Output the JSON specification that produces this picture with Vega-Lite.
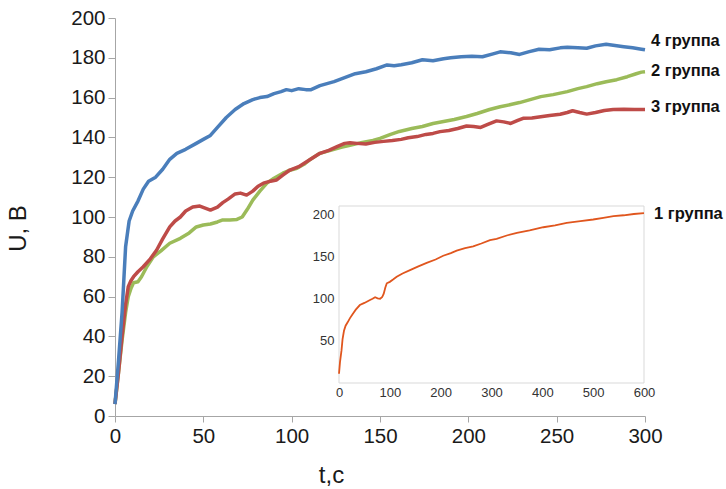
{
  "$schema": "https://vega.github.io/schema/vega-lite/v6.json",
  "width": 530,
  "height": 398,
  "autosize": {"type": "none"},
  "padding": {"left": 115, "top": 18, "right": 81, "bottom": 73},
  "background": "white",
  "config": {"font": "Liberation Sans", "view": {"stroke": null}, "axis": {"labelFlush": false, "labelOverlap": false}},
  "datasets": {
    "main": [
      {"g": "2 группа", "t": 0, "u": 6}, {"g": "2 группа", "t": 2, "u": 22}, {"g": "2 группа", "t": 4, "u": 38}, {"g": "2 группа", "t": 6, "u": 52}, {"g": "2 группа", "t": 7.5, "u": 60}, {"g": "2 группа", "t": 9, "u": 64}, {"g": "2 группа", "t": 10.5, "u": 67}, {"g": "2 группа", "t": 13, "u": 67.5}, {"g": "2 группа", "t": 15, "u": 70}, {"g": "2 группа", "t": 18, "u": 75}, {"g": "2 группа", "t": 21.7, "u": 80}, {"g": "2 группа", "t": 26, "u": 83}, {"g": "2 группа", "t": 31, "u": 86.8}, {"g": "2 группа", "t": 37, "u": 89.3}, {"g": "2 группа", "t": 42, "u": 92}, {"g": "2 группа", "t": 46, "u": 95}, {"g": "2 группа", "t": 50, "u": 96}, {"g": "2 группа", "t": 54, "u": 96.5}, {"g": "2 группа", "t": 58, "u": 97.5}, {"g": "2 группа", "t": 61, "u": 98.5}, {"g": "2 группа", "t": 65, "u": 98.5}, {"g": "2 группа", "t": 69, "u": 98.8}, {"g": "2 группа", "t": 72, "u": 100}, {"g": "2 группа", "t": 75, "u": 104}, {"g": "2 группа", "t": 78, "u": 108.5}, {"g": "2 группа", "t": 82, "u": 113}, {"g": "2 группа", "t": 86, "u": 117}, {"g": "2 группа", "t": 90, "u": 119.5}, {"g": "2 группа", "t": 95, "u": 122}, {"g": "2 группа", "t": 99, "u": 123.5}, {"g": "2 группа", "t": 103, "u": 124.5}, {"g": "2 группа", "t": 107, "u": 126.5}, {"g": "2 группа", "t": 110, "u": 128.6}, {"g": "2 группа", "t": 116, "u": 132}, {"g": "2 группа", "t": 122, "u": 133.5}, {"g": "2 группа", "t": 128, "u": 135}, {"g": "2 группа", "t": 133, "u": 136}, {"g": "2 группа", "t": 140, "u": 137.5}, {"g": "2 группа", "t": 146, "u": 138.5}, {"g": "2 группа", "t": 150, "u": 139.5}, {"g": "2 группа", "t": 156, "u": 141.5}, {"g": "2 группа", "t": 161, "u": 143}, {"g": "2 группа", "t": 168, "u": 144.5}, {"g": "2 группа", "t": 174, "u": 145.5}, {"g": "2 группа", "t": 180, "u": 147}, {"g": "2 группа", "t": 186, "u": 148}, {"g": "2 группа", "t": 192, "u": 149}, {"g": "2 группа", "t": 199, "u": 150.5}, {"g": "2 группа", "t": 205, "u": 152}, {"g": "2 группа", "t": 212, "u": 154}, {"g": "2 группа", "t": 218, "u": 155.4}, {"g": "2 группа", "t": 224, "u": 156.5}, {"g": "2 группа", "t": 229, "u": 157.5}, {"g": "2 группа", "t": 235, "u": 159}, {"g": "2 группа", "t": 241, "u": 160.5}, {"g": "2 группа", "t": 248, "u": 161.5}, {"g": "2 группа", "t": 256, "u": 163}, {"g": "2 группа", "t": 262, "u": 164.5}, {"g": "2 группа", "t": 267, "u": 165.5}, {"g": "2 группа", "t": 273, "u": 167}, {"g": "2 группа", "t": 278, "u": 168}, {"g": "2 группа", "t": 284, "u": 169}, {"g": "2 группа", "t": 290, "u": 170.5}, {"g": "2 группа", "t": 295, "u": 172}, {"g": "2 группа", "t": 298, "u": 172.8}, {"g": "2 группа", "t": 300, "u": 173},
      {"g": "3 группа", "t": 0, "u": 6}, {"g": "3 группа", "t": 2, "u": 22}, {"g": "3 группа", "t": 4, "u": 40}, {"g": "3 группа", "t": 6, "u": 56}, {"g": "3 группа", "t": 7.5, "u": 65}, {"g": "3 группа", "t": 9, "u": 68}, {"g": "3 группа", "t": 10.5, "u": 70}, {"g": "3 группа", "t": 13, "u": 72.5}, {"g": "3 группа", "t": 16, "u": 75}, {"g": "3 группа", "t": 20, "u": 79}, {"g": "3 группа", "t": 23.6, "u": 83.4}, {"g": "3 группа", "t": 27, "u": 89}, {"g": "3 группа", "t": 31, "u": 95}, {"g": "3 группа", "t": 34, "u": 98}, {"g": "3 группа", "t": 37, "u": 100}, {"g": "3 группа", "t": 40, "u": 103}, {"g": "3 группа", "t": 44, "u": 105}, {"g": "3 группа", "t": 48, "u": 105.5}, {"g": "3 группа", "t": 51, "u": 104.5}, {"g": "3 группа", "t": 54, "u": 103.5}, {"g": "3 группа", "t": 58, "u": 105}, {"g": "3 группа", "t": 61, "u": 107.2}, {"g": "3 группа", "t": 64, "u": 109}, {"g": "3 группа", "t": 68, "u": 111.6}, {"g": "3 группа", "t": 71, "u": 112}, {"g": "3 группа", "t": 74.5, "u": 111}, {"g": "3 группа", "t": 78, "u": 113}, {"g": "3 группа", "t": 81, "u": 115.5}, {"g": "3 группа", "t": 84, "u": 117}, {"g": "3 группа", "t": 88, "u": 118}, {"g": "3 группа", "t": 91.5, "u": 118.6}, {"g": "3 группа", "t": 95, "u": 121}, {"g": "3 группа", "t": 99, "u": 123.6}, {"g": "3 группа", "t": 104, "u": 125.3}, {"g": "3 группа", "t": 110, "u": 128.6}, {"g": "3 группа", "t": 116, "u": 132}, {"g": "3 группа", "t": 121, "u": 133.5}, {"g": "3 группа", "t": 126, "u": 135.5}, {"g": "3 группа", "t": 130, "u": 137}, {"g": "3 группа", "t": 133, "u": 137.3}, {"g": "3 группа", "t": 137, "u": 137}, {"g": "3 группа", "t": 142, "u": 136.7}, {"g": "3 группа", "t": 147, "u": 137.5}, {"g": "3 группа", "t": 152, "u": 138}, {"g": "3 группа", "t": 157, "u": 138.4}, {"g": "3 группа", "t": 162, "u": 139}, {"g": "3 группа", "t": 166, "u": 139.8}, {"g": "3 группа", "t": 171, "u": 140.4}, {"g": "3 группа", "t": 176, "u": 141.5}, {"g": "3 группа", "t": 180, "u": 142}, {"g": "3 группа", "t": 184, "u": 142.9}, {"g": "3 группа", "t": 189, "u": 143.5}, {"g": "3 группа", "t": 194, "u": 144.5}, {"g": "3 группа", "t": 199, "u": 145.7}, {"g": "3 группа", "t": 203, "u": 145.5}, {"g": "3 группа", "t": 207, "u": 145}, {"g": "3 группа", "t": 211, "u": 146.5}, {"g": "3 группа", "t": 216, "u": 148.3}, {"g": "3 группа", "t": 220, "u": 147.8}, {"g": "3 группа", "t": 224, "u": 147}, {"g": "3 группа", "t": 228, "u": 148.5}, {"g": "3 группа", "t": 231, "u": 149.6}, {"g": "3 группа", "t": 236, "u": 149.8}, {"g": "3 группа", "t": 241, "u": 150.4}, {"g": "3 группа", "t": 246, "u": 151}, {"g": "3 группа", "t": 252, "u": 151.6}, {"g": "3 группа", "t": 256, "u": 152.5}, {"g": "3 группа", "t": 259, "u": 153.4}, {"g": "3 группа", "t": 263, "u": 152.5}, {"g": "3 группа", "t": 267, "u": 151.7}, {"g": "3 группа", "t": 272, "u": 152.5}, {"g": "3 группа", "t": 277, "u": 153.5}, {"g": "3 группа", "t": 282, "u": 154}, {"g": "3 группа", "t": 288, "u": 154.2}, {"g": "3 группа", "t": 294, "u": 154}, {"g": "3 группа", "t": 300, "u": 154},
      {"g": "4 группа", "t": 0, "u": 6}, {"g": "4 группа", "t": 2, "u": 28}, {"g": "4 группа", "t": 4, "u": 52}, {"g": "4 группа", "t": 6, "u": 85}, {"g": "4 группа", "t": 8, "u": 98}, {"g": "4 группа", "t": 10, "u": 103}, {"g": "4 группа", "t": 13, "u": 108}, {"g": "4 группа", "t": 16, "u": 114}, {"g": "4 группа", "t": 19, "u": 118}, {"g": "4 группа", "t": 23, "u": 120}, {"g": "4 группа", "t": 27, "u": 124}, {"g": "4 группа", "t": 31, "u": 129}, {"g": "4 группа", "t": 35, "u": 132}, {"g": "4 группа", "t": 40, "u": 134}, {"g": "4 группа", "t": 46, "u": 137}, {"g": "4 группа", "t": 50, "u": 139}, {"g": "4 группа", "t": 54, "u": 141}, {"g": "4 группа", "t": 58, "u": 145}, {"g": "4 группа", "t": 63, "u": 150}, {"g": "4 группа", "t": 68, "u": 154}, {"g": "4 группа", "t": 73, "u": 157}, {"g": "4 группа", "t": 78, "u": 159}, {"g": "4 группа", "t": 82, "u": 160}, {"g": "4 группа", "t": 86, "u": 160.5}, {"g": "4 группа", "t": 90, "u": 162}, {"g": "4 группа", "t": 94, "u": 163}, {"g": "4 группа", "t": 97, "u": 164}, {"g": "4 группа", "t": 100, "u": 163.5}, {"g": "4 группа", "t": 104, "u": 164.5}, {"g": "4 группа", "t": 108, "u": 164}, {"g": "4 группа", "t": 111, "u": 164}, {"g": "4 группа", "t": 116, "u": 166}, {"g": "4 группа", "t": 120, "u": 167}, {"g": "4 группа", "t": 124, "u": 168}, {"g": "4 группа", "t": 130, "u": 170}, {"g": "4 группа", "t": 136, "u": 172}, {"g": "4 группа", "t": 142, "u": 173}, {"g": "4 группа", "t": 148, "u": 174.5}, {"g": "4 группа", "t": 154, "u": 176.4}, {"g": "4 группа", "t": 158, "u": 176}, {"g": "4 группа", "t": 162, "u": 176.5}, {"g": "4 группа", "t": 168, "u": 177.5}, {"g": "4 группа", "t": 174, "u": 179}, {"g": "4 группа", "t": 180, "u": 178.5}, {"g": "4 группа", "t": 186, "u": 179.5}, {"g": "4 группа", "t": 190, "u": 180}, {"g": "4 группа", "t": 196, "u": 180.5}, {"g": "4 группа", "t": 202, "u": 180.8}, {"g": "4 группа", "t": 208, "u": 180.5}, {"g": "4 группа", "t": 214, "u": 182}, {"g": "4 группа", "t": 218, "u": 183}, {"g": "4 группа", "t": 224, "u": 182.5}, {"g": "4 группа", "t": 229, "u": 181.7}, {"g": "4 группа", "t": 234, "u": 183}, {"g": "4 группа", "t": 240, "u": 184.3}, {"g": "4 группа", "t": 246, "u": 184}, {"g": "4 группа", "t": 252, "u": 185}, {"g": "4 группа", "t": 256, "u": 185.3}, {"g": "4 группа", "t": 262, "u": 185}, {"g": "4 группа", "t": 267, "u": 184.8}, {"g": "4 группа", "t": 272, "u": 186}, {"g": "4 группа", "t": 278, "u": 186.8}, {"g": "4 группа", "t": 282, "u": 186.3}, {"g": "4 группа", "t": 288, "u": 185.6}, {"g": "4 группа", "t": 293, "u": 185}, {"g": "4 группа", "t": 298, "u": 184.3}, {"g": "4 группа", "t": 300, "u": 184}
    ],
    "mainLabels": [
      {"label": "4 группа", "t": 300, "u": 188.4},
      {"label": "2 группа", "t": 300, "u": 173.5},
      {"label": "3 группа", "t": 300, "u": 155.1}
    ],
    "inset": [
      {"t": 0, "u": 11}, {"t": 2, "u": 25}, {"t": 5, "u": 39}, {"t": 7, "u": 52}, {"t": 9.8, "u": 62}, {"t": 13, "u": 68}, {"t": 17, "u": 72}, {"t": 21.6, "u": 77}, {"t": 27, "u": 82}, {"t": 33, "u": 87}, {"t": 41, "u": 92.5}, {"t": 50, "u": 95}, {"t": 61, "u": 98.5}, {"t": 66, "u": 100}, {"t": 71, "u": 101.7}, {"t": 76, "u": 100.5}, {"t": 81, "u": 100}, {"t": 85, "u": 102}, {"t": 88, "u": 106}, {"t": 91, "u": 113}, {"t": 94, "u": 118.3}, {"t": 100, "u": 120}, {"t": 107, "u": 123}, {"t": 113.5, "u": 126}, {"t": 125, "u": 130}, {"t": 139.7, "u": 134}, {"t": 155, "u": 138}, {"t": 172.5, "u": 142.5}, {"t": 190, "u": 146.5}, {"t": 205, "u": 151}, {"t": 220, "u": 154}, {"t": 231.5, "u": 157}, {"t": 248, "u": 160}, {"t": 264, "u": 162}, {"t": 280, "u": 165.5}, {"t": 297, "u": 169.5}, {"t": 310, "u": 171}, {"t": 330, "u": 175}, {"t": 350, "u": 178}, {"t": 375, "u": 181}, {"t": 402, "u": 184.8}, {"t": 425, "u": 187}, {"t": 448, "u": 190}, {"t": 475, "u": 192}, {"t": 500, "u": 194}, {"t": 520, "u": 196}, {"t": 540, "u": 198}, {"t": 560, "u": 199}, {"t": 580, "u": 200.5}, {"t": 600, "u": 201.5}
    ],
    "insetLabel": [{"label": "1 группа", "t": 600, "u": 200.5}],
    "insetBox": [{"t": 0, "t2": 600, "u": 0, "u2": 210}]
  },
  "layer": [
    {
      "encoding": {
        "x": {
          "field": "t", "type": "quantitative",
          "scale": {"domain": [0, 300], "nice": false, "zero": false},
          "axis": {
            "values": [0, 50, 100, 150, 200, 250, 300],
            "labelOverlap": false, "labelFlush": false,
            "grid": false, "domainColor": "#a6a6a6", "tickColor": "#a6a6a6",
            "tickSize": 6, "labelPadding": 4, "labelFontSize": 20.5, "labelColor": "#1a1a1a",
            "title": "t,c", "titleFontSize": 24, "titleFontWeight": "normal", "titleColor": "#1a1a1a",
            "titleX": 216, "titleY": 66, "titleBaseline": "alphabetic", "titleAlign": "center"
          }
        },
        "y": {
          "field": "u", "type": "quantitative",
          "scale": {"domain": [0, 200], "nice": false},
          "axis": {
            "values": [0, 20, 40, 60, 80, 100, 120, 140, 160, 180, 200],
            "labelOverlap": false, "labelFlush": false,
            "grid": false, "domainColor": "#a6a6a6", "tickColor": "#a6a6a6",
            "tickSize": 7, "labelPadding": 3, "labelFontSize": 20.5, "labelColor": "#1a1a1a",
            "title": "U, B", "titleFontSize": 24, "titleFontWeight": "normal", "titleColor": "#1a1a1a",
            "titleX": -97, "titleY": 210, "titleBaseline": "middle", "titleAlign": "center", "titleAngle": -90
          }
        }
      },
      "layer": [
        {
          "data": {"name": "main"},
          "mark": {"type": "line", "strokeWidth": 3.5, "strokeJoin": "round"},
          "encoding": {
            "color": {
              "field": "g", "type": "nominal",
              "scale": {"domain": ["2 группа", "3 группа", "4 группа"], "range": ["#9BBB59", "#BE4B48", "#4A7EBB"]},
              "legend": null
            }
          }
        },
        {
          "data": {"name": "mainLabels"},
          "mark": {"type": "text", "align": "left", "baseline": "middle", "dx": 6, "fontSize": 16.5, "fontWeight": "bold", "color": "#111111"},
          "encoding": {
            "text": {"field": "label"}
          }
        }
      ]
    },
    {
      "encoding": {
        "x": {
          "field": "t", "type": "quantitative",
          "scale": {"domain": [0, 600], "range": [224, 529], "nice": false, "zero": false},
          "axis": {
            "orient": "bottom", "offset": -33,
            "values": [0, 100, 200, 300, 400, 500, 600],
            "labelOverlap": false, "labelFlush": false,
            "grid": false, "domain": false, "ticks": false,
            "labelPadding": 3, "labelFontSize": 13, "labelColor": "#333333",
            "title": null
          }
        },
        "y": {
          "field": "u", "type": "quantitative",
          "scale": {"domain": [0, 210], "range": [365, 188], "nice": false},
          "axis": {
            "orient": "left", "offset": -224,
            "values": [50, 100, 150, 200],
            "labelOverlap": false, "labelFlush": false,
            "grid": false, "domain": false, "ticks": false,
            "labelPadding": 5, "labelFontSize": 13, "labelColor": "#333333",
            "title": null
          }
        }
      },
      "layer": [
        {
          "data": {"name": "insetBox"},
          "mark": {"type": "rect", "fill": "transparent", "stroke": "#d9d9d9", "strokeWidth": 1},
          "encoding": {
            "x2": {"field": "t2"},
            "y2": {"field": "u2"}
          }
        },
        {
          "data": {"name": "inset"},
          "mark": {"type": "line", "strokeWidth": 1.8, "color": "#E0561E"}
        },
        {
          "data": {"name": "insetLabel"},
          "mark": {"type": "text", "align": "left", "baseline": "middle", "dx": 10, "fontSize": 16.5, "fontWeight": "bold", "color": "#111111"},
          "encoding": {
            "text": {"field": "label"}
          }
        }
      ]
    }
  ],
  "resolve": {"scale": {"x": "independent", "y": "independent"}, "axis": {"x": "independent", "y": "independent"}}
}
